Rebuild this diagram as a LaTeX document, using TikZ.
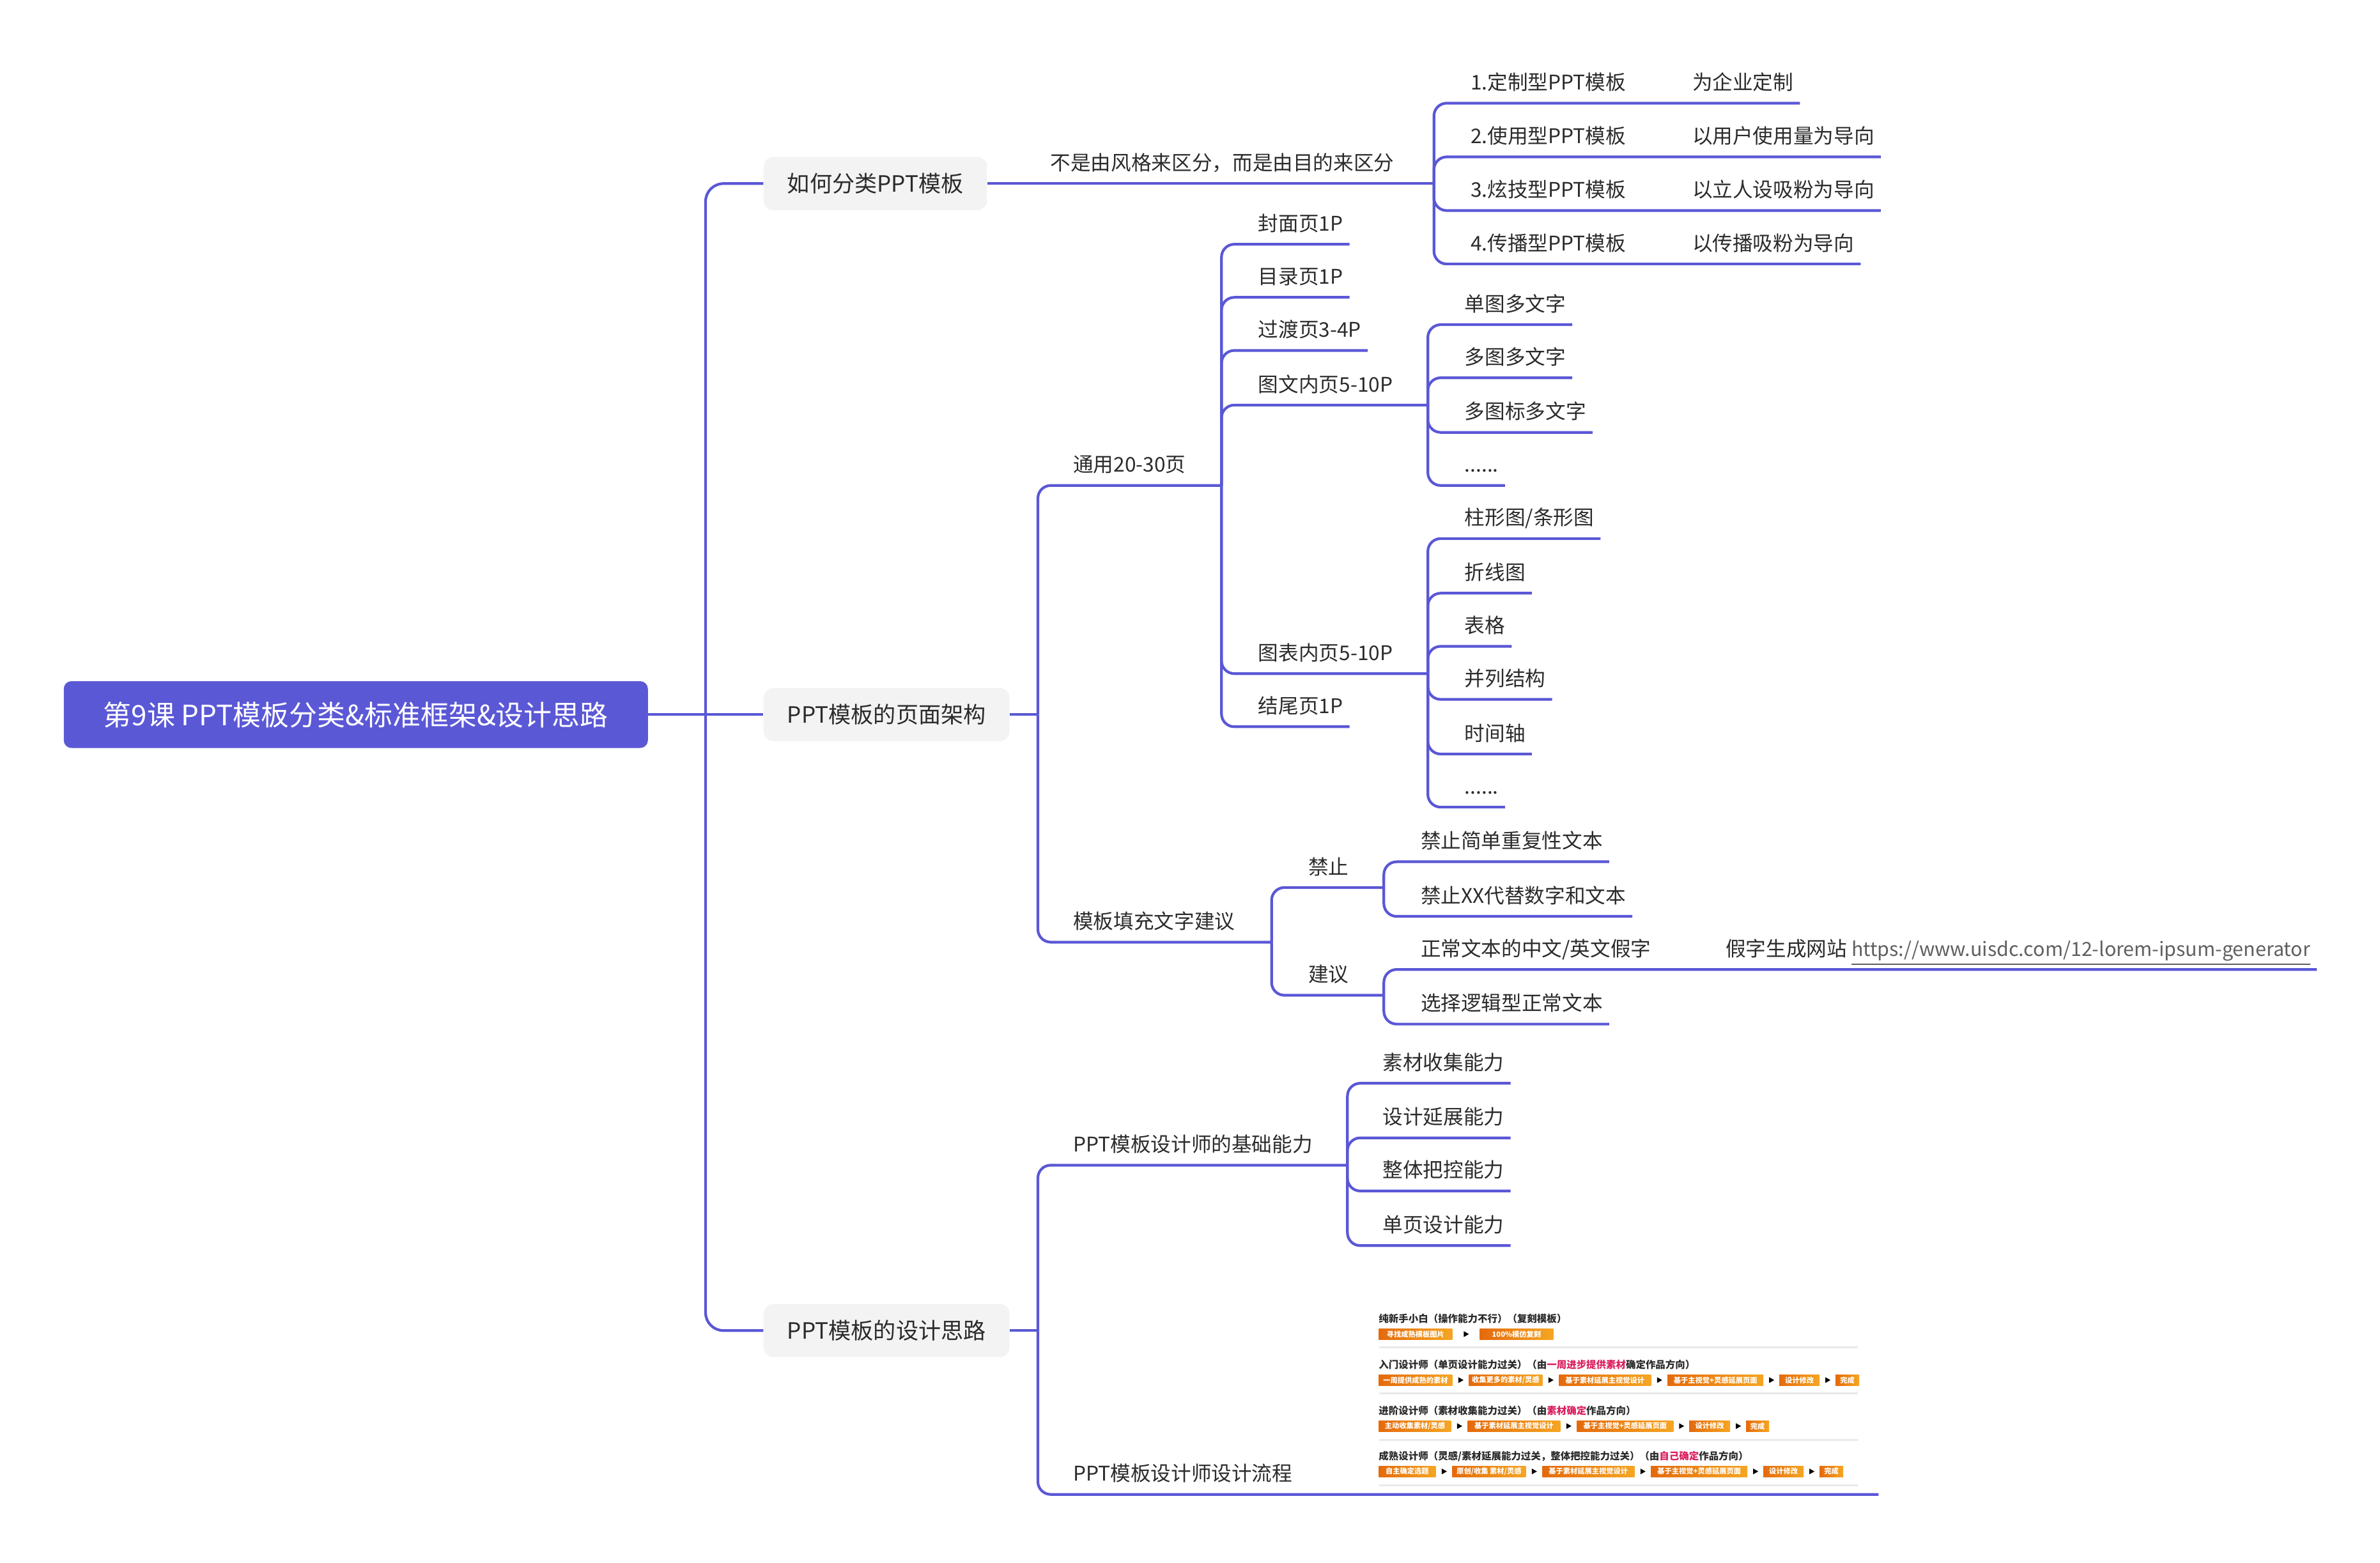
\documentclass[tikz,border=0pt]{standalone}
\usepackage{fontspec}
\setmainfont{Noto Sans CJK SC}
\usetikzlibrary{calc}
\definecolor{lc}{HTML}{5A57D6}
\definecolor{rc}{HTML}{5B58D6}
\definecolor{bg}{HTML}{F3F3F3}
\definecolor{tc}{HTML}{2B2B2B}
\definecolor{urlc}{HTML}{5F5F5F}
\definecolor{o1}{HTML}{E46A0C}
\definecolor{o2}{HTML}{F5A623}
\definecolor{hl}{HTML}{DB1F5E}
\definecolor{sepc}{HTML}{E9E9E9}
\newcommand{\arw}[2]{\fill[black] ($(#1.east)!0.5!(#2.west)$) ++(-3.5,-4.5) -- ++(8,4.5) -- ++(-8,4.5) -- cycle;}
\begin{document}
\begin{tikzpicture}[x=0.02375cm,y=-0.02375cm,
  conn/.style={draw=lc,line width=1.2pt,rounded corners=0.2cm},
  trunk/.style={draw=lc,line width=1.2pt,rounded corners=0.28cm},
  topic/.style={font=\fontsize{9}{11}\selectfont,text=tc,anchor=south west,inner xsep=2.7pt,inner ysep=3.74pt,text height=7pt,text depth=2pt},
  lone/.style={fill=bg,rounded corners=0.15cm,font=\fontsize{10}{12}\selectfont,text=tc,inner xsep=0.37cm,minimum height=0.83cm,anchor=west},
  rootbox/.style={fill=rc,rounded corners=0.12cm,text=white,font=\fontsize{12.5}{15}\selectfont,minimum width=9.14cm,minimum height=1.045cm},
  obox/.style={left color=o1,right color=o2,text=white,font=\bfseries\fontsize{3.2}{3.6}\selectfont,inner sep=0pt,minimum height=0.17cm,anchor=west},
  ttl/.style={font=\bfseries\fontsize{4.4}{5}\selectfont,text=tc,anchor=west,inner sep=0pt},
  sep/.style={draw=sepc,line width=0.8pt},
]
\path[use as bounding box] (0cm,0cm) rectangle (37.24cm,-24.45cm);

% root and level 1
\node[rootbox] (root) at (234.5,471) {第9课 PPT模板分类\&标准框架\&设计思路};
\node[lone] (l1a) at (503,121) {如何分类PPT模板};
\node[lone] (l1b) at (503,471) {PPT模板的页面架构};
\node[lone] (l1c) at (503,877) {PPT模板的设计思路};
\coordinate (j0) at (465,471);
\draw[trunk] (root.east) -- (j0);
\draw[trunk] (j0) |- (l1a.west);
\draw[trunk] (j0) -- (l1b.west);
\draw[trunk] (j0) |- (l1c.west);

% branch A
\node[topic] (a0) at (688,121) {不是由风格来区分，而是由目的来区分};
\coordinate (ja) at (945,121);
\draw[conn] (l1a.east) -- (ja);
\node[topic] (a1) at (965,68) {1.定制型PPT模板};
\node[topic] (a1r) at (1111,68) {为企业定制};
\node[topic] (a2) at (965,103.4) {2.使用型PPT模板};
\node[topic] (a2r) at (1111,103.4) {以用户使用量为导向};
\node[topic] (a3) at (965,138.8) {3.炫技型PPT模板};
\node[topic] (a3r) at (1111,138.8) {以立人设吸粉为导向};
\node[topic] (a4) at (965,174) {4.传播型PPT模板};
\node[topic] (a4r) at (1111,174) {以传播吸粉为导向};
\draw[conn] (ja) |- (a1.south east) -- (a1r.south east);
\draw[conn] (ja) |- (a2.south east) -- (a2r.south east);
\draw[conn] (ja) |- (a3.south east) -- (a3r.south east);
\draw[conn] (ja) |- (a4.south east) -- (a4r.south east);

% branch B
\coordinate (jb) at (684,471);
\draw[conn] (l1b.east) -- (jb);
\node[topic] (b1) at (703,320) {通用20-30页};
\coordinate (jb1) at (805,320);
\draw[conn] (jb) |- (jb1);
\node[topic] (b11) at (825,161) {封面页1P};
\node[topic] (b12) at (825,196) {目录页1P};
\node[topic] (b13) at (825,231) {过渡页3-4P};
\node[topic] (b14) at (825,267) {图文内页5-10P};
\node[topic] (b15) at (825,444) {图表内页5-10P};
\node[topic] (b16) at (825,479) {结尾页1P};
\coordinate (jb14) at (941,267);
\coordinate (jb15) at (941,444);
\draw[conn] (jb1) |- (b11.south east);
\draw[conn] (jb1) |- (b12.south east);
\draw[conn] (jb1) |- (b13.south east);
\draw[conn] (jb1) |- (jb14);
\draw[conn] (jb1) |- (jb15);
\draw[conn] (jb1) |- (b16.south east);
\node[topic] (b141) at (961,214) {单图多文字};
\node[topic] (b142) at (961,249) {多图多文字};
\node[topic] (b143) at (961,285) {多图标多文字};
\node[topic] (b144) at (961,320) {......};
\foreach \n in {b141,b142,b143,b144} \draw[conn] (jb14) |- (\n.south east);
\node[topic] (b151) at (961,355) {柱形图/条形图};
\node[topic] (b152) at (961,391) {折线图};
\node[topic] (b153) at (961,426) {表格};
\node[topic] (b154) at (961,461) {并列结构};
\node[topic] (b155) at (961,497) {时间轴};
\node[topic] (b156) at (961,532) {......};
\foreach \n in {b151,b152,b153,b154,b155,b156} \draw[conn] (jb15) |- (\n.south east);

\node[topic] (b2) at (703,621) {模板填充文字建议};
\coordinate (jb2) at (838,621);
\draw[conn] (jb) |- (jb2);
\node[topic] (b21) at (858,585) {禁止};
\node[topic] (b22) at (858,656) {建议};
\coordinate (jb21) at (912,585);
\coordinate (jb22) at (912,656);
\draw[conn] (jb2) |- (jb21);
\draw[conn] (jb2) |- (jb22);
\node[topic] (b211) at (932,568) {禁止简单重复性文本};
\node[topic] (b212) at (932,604) {禁止XX代替数字和文本};
\draw[conn] (jb21) |- (b211.south east);
\draw[conn] (jb21) |- (b212.south east);
\node[topic] (b221) at (932,639) {正常文本的中文/英文假字};
\node[topic] (b221r) at (1133,639) {假字生成网站 \textcolor{urlc}{\fontsize{8.65}{11}\selectfont\underline{https://www.uisdc.com/12-lorem-ipsum-generator}}};
\node[topic] (b222) at (932,675) {选择逻辑型正常文本};
\draw[conn] (jb22) |- (b221.south east) -- (b221r.south east);
\draw[conn] (jb22) |- (b222.south east);

% branch C
\coordinate (jc) at (684,877);
\draw[conn] (l1c.east) -- (jc);
\node[topic] (c1) at (703,768) {PPT模板设计师的基础能力};
\coordinate (jc1) at (888,768);
\draw[conn] (jc) |- (jc1);
\node[topic] (c11) at (907,714) {素材收集能力};
\node[topic] (c12) at (907,750) {设计延展能力};
\node[topic] (c13) at (907,785) {整体把控能力};
\node[topic] (c14) at (907,821) {单页设计能力};
\foreach \n in {c11,c12,c13,c14} \draw[conn] (jc1) |- (\n.south east);
\node[topic] (c2) at (703,985) {PPT模板设计师设计流程};
\coordinate (c2end) at (1238,985);
\draw[conn] (jc) |- (c2end);

% embedded flow picture
\begin{scope}[x=0.01cm,y=-0.01cm]
\node[ttl] (t1) at (2158,2065) {纯新手小白（操作能力不行）（复刻模板）};
\node[obox,minimum width=1.15cm] (r1a) at (2158,2089) {寻找成熟模板图片};
\node[obox,minimum width=1.15cm] (r1b) at (2316,2089) {100\%模仿复刻};
\arw{r1a}{r1b}
\draw[sep] (2159,2110) -- (2909,2110);

\node[ttl] (t2) at (2158,2137) {入门设计师（单页设计能力过关）（由\textcolor{hl}{一周进步提供素材}确定作品方向）};
\node[obox,minimum width=1.15cm] (r2a) at (2158,2161) {一周提供成熟的素材};
\node[obox,minimum width=1.15cm] (r2b) at (2299,2161) {收集更多的素材/灵感};
\node[obox,minimum width=1.44cm] (r2c) at (2440,2161) {基于素材延展主视觉设计};
\node[obox,minimum width=1.50cm] (r2d) at (2610,2161) {基于主视觉+灵感延展页面};
\node[obox,minimum width=0.63cm] (r2e) at (2785,2161) {设计修改};
\node[obox,minimum width=0.37cm] (r2f) at (2873,2161) {完成};
\arw{r2a}{r2b}\arw{r2b}{r2c}\arw{r2c}{r2d}\arw{r2d}{r2e}\arw{r2e}{r2f}
\draw[sep] (2159,2182) -- (2909,2182);

\node[ttl] (t3) at (2158,2209) {进阶设计师（素材收集能力过关）（由\textcolor{hl}{素材确定}作品方向）};
\node[obox,minimum width=1.13cm] (r3a) at (2158,2233) {主动收集素材/灵感};
\node[obox,minimum width=1.45cm] (r3b) at (2297,2233) {基于素材延展主视觉设计};
\node[obox,minimum width=1.51cm] (r3c) at (2468,2233) {基于主视觉+灵感延展页面};
\node[obox,minimum width=0.64cm] (r3d) at (2644,2233) {设计修改};
\node[obox,minimum width=0.36cm] (r3e) at (2733,2233) {完成};
\arw{r3a}{r3b}\arw{r3b}{r3c}\arw{r3c}{r3d}\arw{r3d}{r3e}
\draw[sep] (2159,2255) -- (2909,2255);

\node[ttl] (t4) at (2158,2280) {成熟设计师（灵感/素材延展能力过关，整体把控能力过关）（由\textcolor{hl}{自己确定}作品方向）};
\node[obox,minimum width=0.89cm] (r4a) at (2158,2304) {自主确定选题};
\node[obox,minimum width=1.15cm] (r4b) at (2273,2304) {原创/收集 素材/灵感};
\node[obox,minimum width=1.44cm] (r4c) at (2414,2304) {基于素材延展主视觉设计};
\node[obox,minimum width=1.51cm] (r4d) at (2584,2304) {基于主视觉+灵感延展页面};
\node[obox,minimum width=0.63cm] (r4e) at (2760,2304) {设计修改};
\node[obox,minimum width=0.37cm] (r4f) at (2848,2304) {完成};
\arw{r4a}{r4b}\arw{r4b}{r4c}\arw{r4c}{r4d}\arw{r4d}{r4e}\arw{r4e}{r4f}
\draw[sep] (2159,2326) -- (2909,2326);
\end{scope}
\end{tikzpicture}
\end{document}
